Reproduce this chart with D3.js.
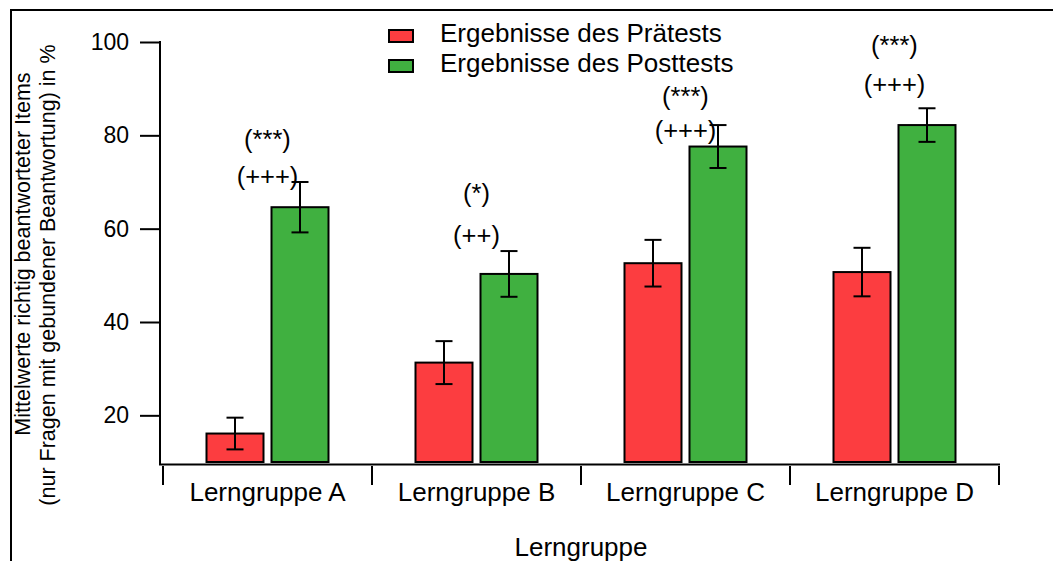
<!DOCTYPE html>
<html>
<head>
<meta charset="utf-8">
<script src="https://cdn.jsdelivr.net/npm/d3@7"></script>
<style>
  html, body { margin: 0; padding: 0; background: #fff; }
  svg { display: block; font-family: "Liberation Sans", Arial, sans-serif; }
</style>
</head>
<body>
<svg id="chart" width="1053" height="561"></svg>
<script>
// ---- data ----
const categories = ["Lerngruppe A", "Lerngruppe B", "Lerngruppe C", "Lerngruppe D"];
const seriesNames = ["Ergebnisse des Prätests", "Ergebnisse des Posttests"];
const preValues = [16.1, 31.3, 52.6, 50.7];
const preErrors = [3.4, 4.6, 5.0, 5.2];
const postValues = [64.6, 50.3, 77.6, 82.2];
const postErrors = [5.4, 4.9, 4.6, 3.6];
const annTopLabels = ["(***)", "(*)", "(***)", "(***)"];
const annTopValues = [77.3, 65.7, 86.5, 97.4];
const annBottomLabels = ["(+++)", "(++)", "(+++)", "(+++)"];
const annBottomValues = [69.4, 56.7, 79.2, 89.1];
const yTicks = [20, 40, 60, 80, 100];
const yTitleLines = ["Mittelwerte richtig beantworteter Items", "(nur Fragen mit gebundener Beantwortung) in %"];
const xTitle = "Lerngruppe";

const colors = ["#fc3d40", "#40b040"];

const svg = d3.select("#chart");

// frame
svg.append("rect").attr("x", 11).attr("y", 10).attr("width", 1100).attr("height", 600)
  .attr("fill", "none").attr("stroke", "#000").attr("stroke-width", 2);

const y = d3.scaleLinear().domain([10, 100]).range([462, 42]);
const x0 = d3.scaleBand().domain(categories).range([163, 999]).padding(0);
const x1 = d3.scaleBand().domain([0, 1]).range([43.5, 165.5]).paddingInner(0.123);

// y axis
const yAxis = d3.axisLeft(y).tickValues(yTicks).tickSize(20).tickPadding(11).tickSizeOuter(0);
const gy = svg.append("g").attr("transform", "translate(160,0)").call(yAxis);
gy.select(".domain").remove();
gy.selectAll(".tick line").attr("stroke", "#000").attr("stroke-width", 2);
gy.selectAll(".tick text").attr("font-size", 23).attr("fill", "#000")
  .attr("font-family", "Liberation Sans, Arial, sans-serif");
svg.append("line").attr("x1", 160).attr("x2", 160).attr("y1", y(100) - 1).attr("y2", 465)
  .attr("stroke", "#000").attr("stroke-width", 2);

// x axis line + group separators
svg.append("line").attr("x1", 159).attr("x2", 1000).attr("y1", 464.5).attr("y2", 464.5)
  .attr("stroke", "#000").attr("stroke-width", 2);
const bounds = categories.map(c => x0(c)).concat([x0.range()[1]]);
svg.append("g").selectAll("line").data(bounds).join("line")
  .attr("x1", d => d).attr("x2", d => d).attr("y1", 466).attr("y2", 485)
  .attr("stroke", "#000").attr("stroke-width", 2);
svg.append("g").selectAll("text").data(categories).join("text")
  .attr("x", d => x0(d) + x0.bandwidth() / 2).attr("y", 501)
  .attr("text-anchor", "middle").attr("font-size", 26).attr("fill", "#000")
  .text(d => d);

// bars
const rows = categories.map((c, i) => ({
  cat: c,
  vals: [
    { s: 0, v: preValues[i], e: preErrors[i] },
    { s: 1, v: postValues[i], e: postErrors[i] }
  ]
}));
const groups = svg.append("g").selectAll("g").data(rows).join("g")
  .attr("transform", d => `translate(${x0(d.cat)},0)`);
groups.selectAll("rect").data(d => d.vals).join("rect")
  .attr("x", d => x1(d.s)).attr("width", x1.bandwidth())
  .attr("y", d => y(d.v)).attr("height", d => y(10) - y(d.v))
  .attr("fill", d => colors[d.s]).attr("stroke", "#000").attr("stroke-width", 2);

// error bars
const cap = 8.5;
const eb = groups.selectAll("g.err").data(d => d.vals).join("g").attr("class", "err")
  .attr("stroke", "#000").attr("stroke-width", 2);
eb.append("line").attr("x1", d => x1(d.s) + x1.bandwidth() / 2).attr("x2", d => x1(d.s) + x1.bandwidth() / 2)
  .attr("y1", d => y(d.v + d.e)).attr("y2", d => y(d.v - d.e));
eb.append("line").attr("x1", d => x1(d.s) + x1.bandwidth() / 2 - cap).attr("x2", d => x1(d.s) + x1.bandwidth() / 2 + cap)
  .attr("y1", d => y(d.v + d.e)).attr("y2", d => y(d.v + d.e));
eb.append("line").attr("x1", d => x1(d.s) + x1.bandwidth() / 2 - cap).attr("x2", d => x1(d.s) + x1.bandwidth() / 2 + cap)
  .attr("y1", d => y(d.v - d.e)).attr("y2", d => y(d.v - d.e));

// annotations
const ann = svg.append("g").attr("font-size", 25.5).attr("fill", "#000").attr("text-anchor", "middle");
ann.selectAll("text.top").data(categories).join("text").attr("class", "top")
  .attr("x", d => x0(d) + x0.bandwidth() / 2).attr("y", (d, i) => y(annTopValues[i]))
  .text((d, i) => annTopLabels[i]);
ann.selectAll("text.bot").data(categories).join("text").attr("class", "bot")
  .attr("x", d => x0(d) + x0.bandwidth() / 2).attr("y", (d, i) => y(annBottomValues[i]))
  .text((d, i) => annBottomLabels[i]);

// legend
const leg = svg.append("g").attr("transform", "translate(389,0)");
const li = leg.selectAll("g").data(seriesNames).join("g")
  .attr("transform", (d, i) => `translate(0,${30 + i * 30})`);
li.append("rect").attr("x", 0).attr("y", 0).attr("width", 24).attr("height", 12)
  .attr("fill", (d, i) => colors[i]).attr("stroke", "#000").attr("stroke-width", 2);
li.append("text").attr("x", 51).attr("y", 12).attr("font-size", 26).attr("fill", "#000").text(d => d);

// axis titles
svg.append("text").attr("x", 581).attr("y", 556).attr("text-anchor", "middle")
  .attr("font-size", 26).attr("fill", "#000").text(xTitle);
const yt = svg.append("g").attr("font-size", 21.5).attr("fill", "#000").attr("text-anchor", "middle");
yt.append("text").attr("transform", "translate(30,254) rotate(-90)").text(yTitleLines[0]);
yt.append("text").attr("transform", "translate(55,275) rotate(-90)").text(yTitleLines[1]);
</script>
</body>
</html>
